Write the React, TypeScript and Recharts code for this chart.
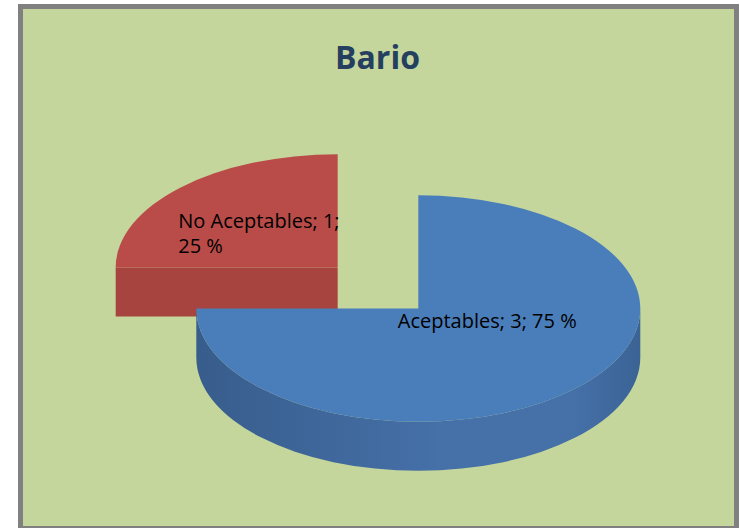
import { PieChart, Pie, Cell } from "recharts";

// values
const categories = ["No Aceptables", "Aceptables"];
const counts = [1, 3];
const chartTitle = "Bario";

const data = categories.map((name, i) => ({ name, value: counts[i] }));

// styles per slice (kept apart from the data)
const topColor: Record<string, string> = {
  "No Aceptables": "#b94c49",
  Aceptables: "#4a7ebb",
};
const faceColor: Record<string, string> = {
  "No Aceptables": "#a8443f",
  Aceptables: "#3f6aa0",
};
const labelStyle: Record<string, { dx: number; dy: number; wrap: number }> = {
  "No Aceptables": { dx: -81, dy: 1, wrap: 17 },
  Aceptables: { dx: -99, dy: -21, wrap: 30 },
};

const TILT = 0.51;
const DEPTH = 49;
const EXPLODE = 57;
const LINE_GAP = 25;
const RAD = Math.PI / 180;
const font = "'Open Sans', 'DejaVu Sans', sans-serif";

function Slice3D(props: any) {
  const { cx, cy, outerRadius: r, startAngle, endAngle, name } = props;
  const hi = Math.max(startAngle, endAngle);
  const lo = Math.min(startAngle, endAngle);
  const mid = ((hi + lo) / 2) * RAD;
  const ex = cx + EXPLODE * Math.cos(mid);
  const ey = cy - EXPLODE * Math.sin(mid) * TILT;
  const pt = (deg: number, dz = 0) =>
    `${ex + r * Math.cos(deg * RAD)},${ey - r * TILT * Math.sin(deg * RAD) + dz}`;
  const ry = r * TILT;
  const large = hi - lo > 180 ? 1 : 0;

  // front (visible) part of the outer wall
  const walls: [number, number][] = [];
  for (const k of [-1, 0, 1]) {
    const a = Math.max(lo, -180 + k * 360);
    const b = Math.min(hi, 0 + k * 360);
    if (b - a > 0.01) walls.push([a, b]);
  }

  // straight cut faces that turn toward the viewer
  const faces: number[] = [];
  if (Math.cos(hi * RAD) < -1e-6) faces.push(hi);
  if (Math.cos(lo * RAD) > 1e-6) faces.push(lo);

  const gid = `wall-${name.replace(/\s/g, "")}`;
  const side = faceColor[name];
  return (
    <g>
      <defs>
        <linearGradient id={gid} x1="0" y1="0" x2="1" y2="0">
          <stop offset="0%" stopColor="#385d8c" />
          <stop offset="55%" stopColor="#4570a8" />
          <stop offset="85%" stopColor="#4570a8" />
          <stop offset="100%" stopColor="#3b6395" />
        </linearGradient>
      </defs>
      {walls.map(([a, b], i) => (
        <path
          key={`w${i}`}
          d={`M${pt(b)} A${r},${ry} 0 ${b - a > 180 ? 1 : 0} 1 ${pt(a)} L${pt(a, DEPTH)} A${r},${ry} 0 ${
            b - a > 180 ? 1 : 0
          } 0 ${pt(b, DEPTH)} Z`}
          fill={`url(#${gid})`}
        />
      ))}
      {faces.map((a, i) => (
        <path
          key={`f${i}`}
          d={`M${ex},${ey} L${pt(a)} L${pt(a, DEPTH)} L${ex},${ey + DEPTH} Z`}
          fill={side}
        />
      ))}
      <path
        d={`M${ex},${ey} L${pt(hi)} A${r},${ry} 0 ${large} 1 ${pt(lo)} Z`}
        fill={topColor[name]}
      />
    </g>
  );
}

function wrapText(text: string, max: number) {
  const words = text.split(" ");
  const lines: string[] = [];
  let cur = "";
  for (const w of words) {
    const next = cur ? `${cur} ${w}` : w;
    if (next.length > max && cur) {
      lines.push(cur);
      cur = w;
    } else cur = next;
  }
  if (cur) lines.push(cur);
  return lines;
}

function renderLabel(props: any) {
  const { cx, cy, outerRadius: r, midAngle, name, value, percent } = props;
  const mid = midAngle * RAD;
  const dist = EXPLODE + r * 0.5;
  const bx = cx + dist * Math.cos(mid);
  const by = cy - dist * Math.sin(mid) * TILT;
  const s = labelStyle[name];
  const lines = wrapText(`${name}; ${value}; ${Math.round(percent * 100)} %`, s.wrap);
  return (
    <g>
      {lines.map((l, i) => (
        <text
          key={i}
          x={bx + s.dx}
          y={by + s.dy + i * LINE_GAP}
          fill="#000"
          fontSize={20}
          fontFamily={font}
          textAnchor="start"
        >
          {l}
        </text>
      ))}
    </g>
  );
}

export default function App() {
  return (
    <div
      style={{
        position: "absolute",
        left: 0,
        top: 0,
        width: 740,
        height: 528,
        overflow: "hidden",
        background: "#fff",
      }}
    >
      <div
        style={{
          position: "absolute",
          left: 18,
          top: 4,
          width: 721,
          height: 527,
          boxSizing: "border-box",
          border: "5px solid #808080",
          background: "#c4d69c",
        }}
      />
      <svg
        width={740}
        height={528}
        style={{ position: "absolute", left: 0, top: 0 }}
      >
        <text
          x={377.5}
          y={69}
          textAnchor="middle"
          fontFamily={font}
          fontWeight={700}
          fontSize={32}
          fill="#243f60"
        >
          {chartTitle}
        </text>
      </svg>
      <div style={{ position: "absolute", left: 0, top: 0 }}>
        <PieChart width={740} height={528} margin={{ top: 0, right: 0, bottom: 0, left: 0 }}>
          <Pie
            data={data}
            dataKey="value"
            nameKey="name"
            cx={378}
            cy={288}
            innerRadius={0}
            outerRadius={222}
            startAngle={180}
            endAngle={-180}
            stroke="none"
            shape={Slice3D}
            label={renderLabel}
            labelLine={false}
            isAnimationActive={false}
          >
            {data.map((d) => (
              <Cell key={d.name} fill={topColor[d.name]} />
            ))}
          </Pie>
        </PieChart>
      </div>
    </div>
  );
}
